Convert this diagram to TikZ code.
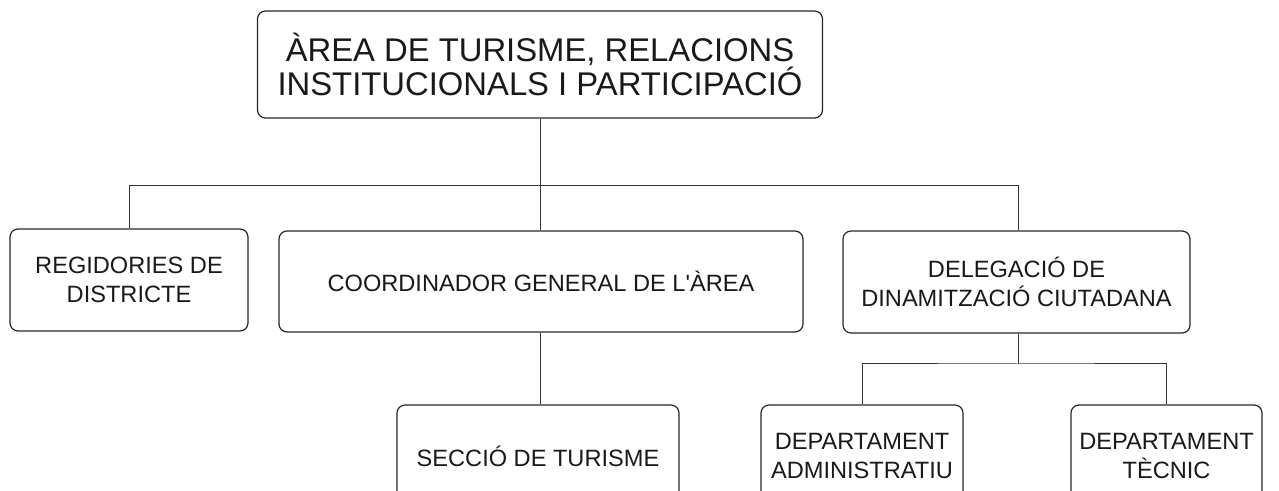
\documentclass[tikz,border=0pt]{standalone}
\usepackage{fontspec}
\setmainfont{Liberation Sans}
\usepackage{xcolor}
\usetikzlibrary{positioning}

\begin{document}
\begin{tikzpicture}[x=0.5pt, y=-0.5pt,
        unit/.style={rectangle, rounded corners=4pt, draw=black!85, line width=0.6pt,
                     align=center, text=black!90, inner sep=2pt,
                     font=\fontsize{11.8}{14.4}\selectfont},
        head/.style={unit, font=\fontsize{16.4}{16}\selectfont},
        link/.style={draw=black!80, line width=0.5pt}]

        \useasboundingbox (0,0) rectangle (1279,491);

        \node[head, minimum width=282.5pt, minimum height=53.5pt] (area)  at (540,64.5)
              {ÀREA DE TURISME, RELACIONS\\INSTITUCIONALS I PARTICIPACIÓ};
        \node[unit, minimum width=119pt, minimum height=51pt]   (regid)   at (129,280)
              {REGIDORIES DE\\DISTRICTE};
        \node[unit, minimum width=262pt, minimum height=50.5pt] (coord)   at (541,281.5)
              {COORDINADOR GENERAL DE L\textquotesingle ÀREA};
        \node[unit, minimum width=173.5pt, minimum height=51pt] (deleg)   at (1016.5,282)
              {DELEGACIÓ DE\\DINAMITZACIÓ CIUTADANA};
        \node[unit, minimum width=141pt, minimum height=51pt]   (seccio)  at (538,456)
              {SECCIÓ DE TURISME};
        \node[unit, minimum width=101pt, minimum height=51pt]   (depadm)  at (862,456)
              {DEPARTAMENT\\ADMINISTRATIU};
        \node[unit, minimum width=95.5pt, minimum height=51pt]  (deptec)  at (1166.5,456)
              {DEPARTAMENT\\TÈCNIC};

        \coordinate (bus)  at (540,186);
        \coordinate (dj)   at (1018,186);
        \coordinate (dbus) at (1018,364);

        % Area -> first level
        \draw[link] (area.south) -- (bus);
        \draw[link] (regid.north) |- (dj) -- (dj |- deleg.north);
        \draw[link] (bus) -- (bus |- coord.north);

        % Coordinador
        \draw[link] (bus |- coord.south) -- (bus |- seccio.north);

        % Delegacio
        \draw[link] (dj |- deleg.south) -- (dbus);
        \draw[link] (depadm.north) |- (dbus) -| (deptec.north);
\end{tikzpicture}
\end{document}
